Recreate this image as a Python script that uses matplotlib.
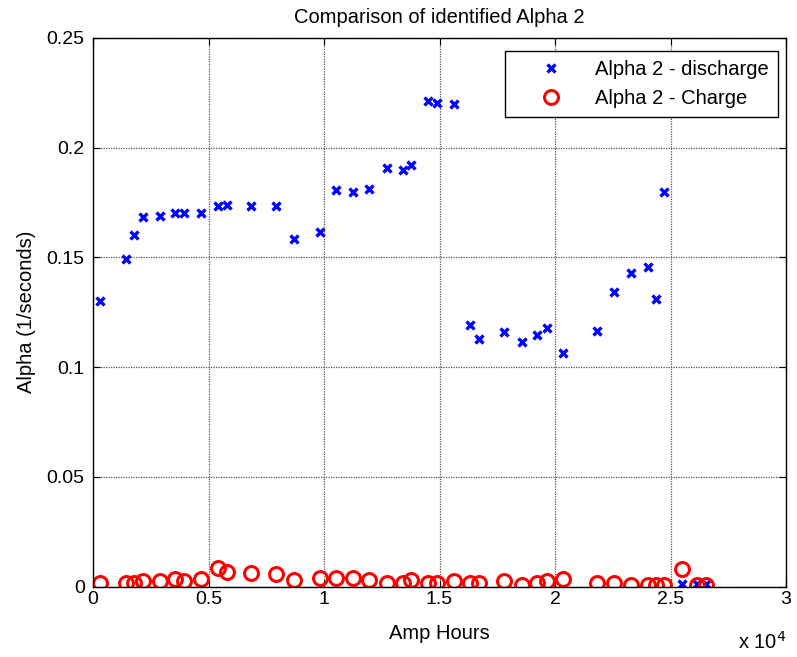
import matplotlib.pyplot as plt
from matplotlib.ticker import FuncFormatter

plt.rcParams['font.family'] = ['Liberation Sans', 'DejaVu Sans']

# -----------------------------
# Identified Alpha 2 values
# -----------------------------
amp_hours = [300, 1415, 1790, 2150, 2910, 3570, 3930, 4690, 5390, 5810,
             6850, 7940, 8710, 9830, 10510, 11270, 11960, 12740, 13400, 13760,
             14500, 14890, 15640, 16320, 16700, 17790, 18560, 19230, 19670, 20360,
             21800, 22560, 23280, 24030, 24380, 24740, 25510, 26140, 26530]

alpha_discharge = [0.130, 0.1493, 0.1603, 0.1682, 0.169, 0.1703, 0.1703, 0.1703, 0.1734, 0.174,
                   0.1734, 0.1734, 0.1586, 0.1617, 0.1806, 0.1797, 0.1812, 0.1906, 0.1899, 0.1921,
                   0.2212, 0.2205, 0.2199, 0.1194, 0.1127, 0.1158, 0.1114, 0.1144, 0.1179, 0.1064,
                   0.1164, 0.1340, 0.1427, 0.1455, 0.1311, 0.1796, 0.0011, 0.0011, 0.0011]

alpha_charge = [0.0018, 0.0018, 0.0018, 0.0024, 0.0024, 0.0033, 0.0024, 0.0033, 0.0084, 0.0068,
                0.0062, 0.0055, 0.0030, 0.0040, 0.0040, 0.0040, 0.0030, 0.0015, 0.0015, 0.0030,
                0.0018, 0.0018, 0.0024, 0.0015, 0.0015, 0.0027, 0.0009, 0.0018, 0.0027, 0.0033,
                0.0018, 0.0018, 0.0009, 0.0009, 0.0009, 0.0009, 0.0079, 0.0009, 0.0009]

fs = 14.5

# -----------------------------
# Plot
# -----------------------------
fig = plt.figure(figsize=(7.97, 6.57), dpi=100)
ax = fig.add_axes([0.1167, 0.1073, 0.8695, 0.8349])

ax.plot(amp_hours, alpha_discharge, linestyle='none', marker='x', color='blue',
        markersize=6, markeredgewidth=2.4, label='Alpha 2 - discharge')
ax.plot(amp_hours, alpha_charge, linestyle='none', marker='o', color='red',
        markerfacecolor='none', markersize=10, markeredgewidth=2.2, label='Alpha 2 - Charge')

ax.set_xlim(0, 30000)
ax.set_ylim(0, 0.25)
ax.set_xticks([0, 5000, 10000, 15000, 20000, 25000, 30000])
ax.set_yticks([0, 0.05, 0.1, 0.15, 0.2, 0.25])
ax.xaxis.set_major_formatter(FuncFormatter(lambda v, p: f"{v / 1e4:g}"))
ax.yaxis.set_major_formatter(FuncFormatter(lambda v, p: f"{v:g}"))
ax.tick_params(direction='in', top=True, right=True, labelsize=14, length=5)
ax.tick_params(axis='x', pad=3)
ax.tick_params(axis='y', pad=6)
ax.grid(True, color='#555555', linestyle=(0, (1, 1)), linewidth=0.9)
for s in ax.spines.values():
    s.set_linewidth(1.0)

ax.set_title('Comparison of identified Alpha 2', fontsize=fs, pad=11)
ax.set_xlabel('Amp Hours', fontsize=fs, labelpad=12)
ax.set_ylabel('Alpha (1/seconds)', fontsize=fs, labelpad=8)
fig.text(0.926, 0.012, r'x 10$^4$', fontsize=fs)

leg = ax.legend(loc='upper right', bbox_to_anchor=(778 / 797, 1 - 51 / 657),
                bbox_transform=fig.transFigure, fontsize=fs, fancybox=False,
                edgecolor='black', framealpha=1, borderpad=0.45, handletextpad=0.3,
                borderaxespad=0, handlelength=3.75, labelspacing=0.5)
leg.get_frame().set_linewidth(1.0)

plt.savefig('out.png', dpi=100)
